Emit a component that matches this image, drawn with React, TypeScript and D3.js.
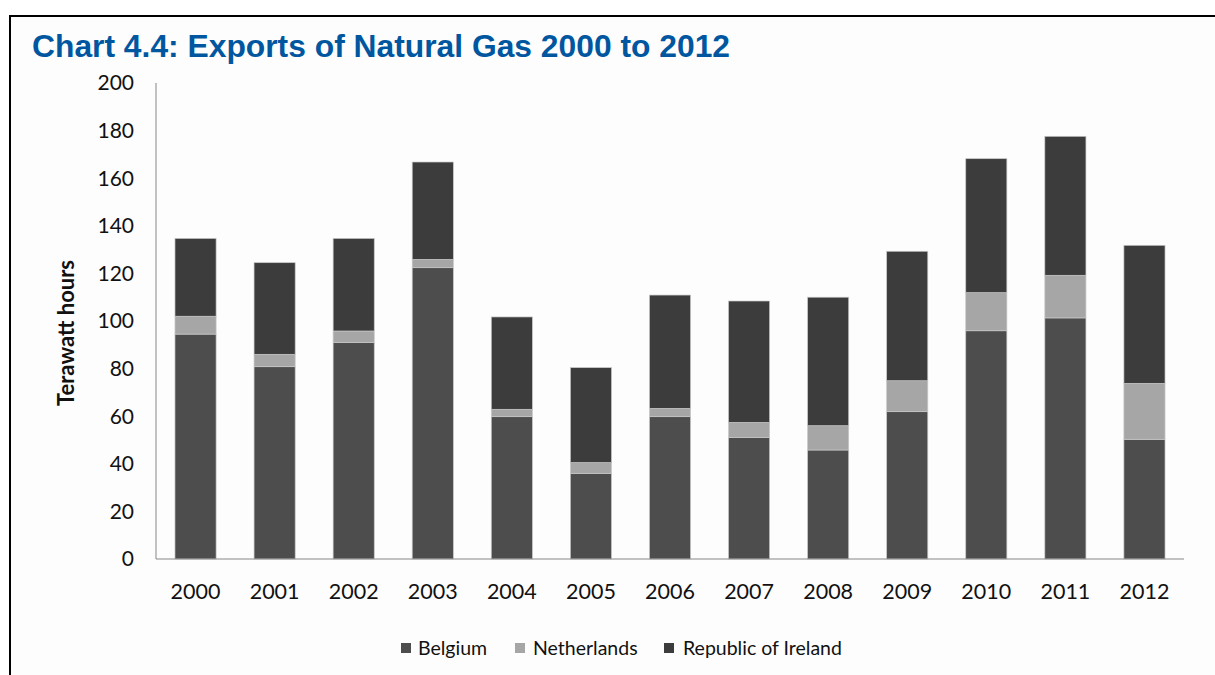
import * as d3 from 'd3';
import { useEffect, useRef } from 'react';

const width = 1215;
const height = 675;

const years = ['2000', '2001', '2002', '2003', '2004', '2005', '2006', '2007', '2008', '2009', '2010', '2011', '2012'];
const belgium = [94.5, 80.8, 91, 122.4, 59.8, 36, 59.8, 51.1, 45.8, 61.9, 95.9, 101.3, 50.3];
const netherlands = [7.5, 5.2, 4.8, 3.5, 3.1, 4.5, 3.5, 6.3, 10.2, 13, 16, 17.9, 23.5];
const ireland = [32.7, 38.5, 38.9, 40.9, 38.8, 39.9, 47.6, 51, 54, 54.4, 56.3, 58.4, 58];
const seriesNames = ['Belgium', 'Netherlands', 'Republic of Ireland'];
const seriesColors = ['#4d4d4d', '#a6a6a6', '#3c3c3c'];
const yTicks = [0, 20, 40, 60, 80, 100, 120, 140, 160, 180, 200];

const tickFont = 'Lato, "Open Sans", sans-serif';

const App = () => {
  const svgRef = useRef<SVGSVGElement>(null);

  useEffect(() => {
    const svg = d3.select(svgRef.current);
    svg.selectAll('*').remove();

    const left = 156;
    const right = 1184;
    const top = 83;
    const bottom = 559;

    // frame + background
    svg.append('rect').attr('x', 0).attr('y', 0).attr('width', width).attr('height', height).attr('fill', '#fff');
    svg.append('rect').attr('x', 10).attr('y', 17).attr('width', width - 10).attr('height', height - 17).attr('fill', '#fdfdfd');
    svg.append('line').attr('x1', 9).attr('x2', width).attr('y1', 16).attr('y2', 16).attr('stroke', '#000').attr('stroke-width', 2);
    svg.append('line').attr('x1', 10).attr('x2', 10).attr('y1', 15).attr('y2', height).attr('stroke', '#000').attr('stroke-width', 2);

    svg
      .append('text')
      .attr('x', 32)
      .attr('y', 57)
      .attr('fill', '#0057a0')
      .style('font-family', '"Liberation Sans", Arial, sans-serif')
      .style('font-weight', 'bold')
      .style('font-size', '31.8px')
      .text('Chart 4.4: Exports of Natural Gas 2000 to 2012');

    const x = d3.scaleBand().domain(years).range([left, right]).paddingInner(0.48).paddingOuter(0.24);
    const y = d3.scaleLinear().domain([0, 200]).range([bottom, top]);

    const table = years.map((yr, i) => ({
      year: yr,
      Belgium: belgium[i],
      Netherlands: netherlands[i],
      'Republic of Ireland': ireland[i],
    }));
    const stacked = d3.stack<any>().keys(seriesNames)(table);

    const g = svg.append('g');
    stacked.forEach((layer, li) => {
      g.selectAll(null)
        .data(layer)
        .enter()
        .append('rect')
        .attr('x', (d: any) => x(d.data.year)!)
        .attr('width', x.bandwidth())
        .attr('y', (d) => y(d[1]))
        .attr('height', (d) => y(d[0]) - y(d[1]))
        .attr('fill', seriesColors[li])
        .attr('stroke', '#c8c8c8')
        .attr('stroke-width', 0.7);
    });

    // axes
    svg.append('line').attr('x1', left).attr('x2', left).attr('y1', top).attr('y2', bottom).attr('stroke', '#999').attr('stroke-width', 1.2);
    svg.append('line').attr('x1', left).attr('x2', right).attr('y1', bottom).attr('y2', bottom).attr('stroke', '#888').attr('stroke-width', 1.2);

    svg
      .append('g')
      .selectAll('text')
      .data(yTicks)
      .enter()
      .append('text')
      .attr('x', 134)
      .attr('y', (d) => y(d))
      .attr('dy', '0.35em')
      .attr('text-anchor', 'end')
      .attr('fill', '#111')
      .style('font-family', tickFont)
      .style('font-size', '21px')
      .text((d) => d);

    svg
      .append('g')
      .selectAll('text')
      .data(years)
      .enter()
      .append('text')
      .attr('x', (d) => x(d)! + x.bandwidth() / 2)
      .attr('y', 599)
      .attr('text-anchor', 'middle')
      .attr('fill', '#111')
      .style('font-family', tickFont)
      .style('font-size', '21.5px')
      .text((d) => d);

    svg
      .append('text')
      .attr('transform', `translate(74,333) rotate(-90)`)
      .attr('text-anchor', 'middle')
      .attr('fill', '#111')
      .style('font-family', tickFont)
      .style('font-weight', 'bold')
      .style('font-size', '22px')
      .text('Terawatt hours');

    // legend
    const legendX = [401, 515, 664];
    const legend = svg
      .append('g')
      .selectAll('g')
      .data(seriesNames)
      .enter()
      .append('g')
      .attr('transform', (d, i) => `translate(${legendX[i]},643)`);
    legend
      .append('rect')
      .attr('width', 10)
      .attr('height', 10)
      .attr('fill', (d, i) => seriesColors[i]);
    legend
      .append('text')
      .attr('x', (d, i) => [17, 18, 19][i])
      .attr('y', 5)
      .attr('dy', '0.36em')
      .attr('fill', '#111')
      .style('font-family', tickFont)
      .style('font-size', '19.5px')
      .text((d) => d);
  }, []);

  return <svg ref={svgRef} width={width} height={height} style={{ position: 'absolute', left: 0, top: 0, display: 'block' }}></svg>;
};

export default App;
